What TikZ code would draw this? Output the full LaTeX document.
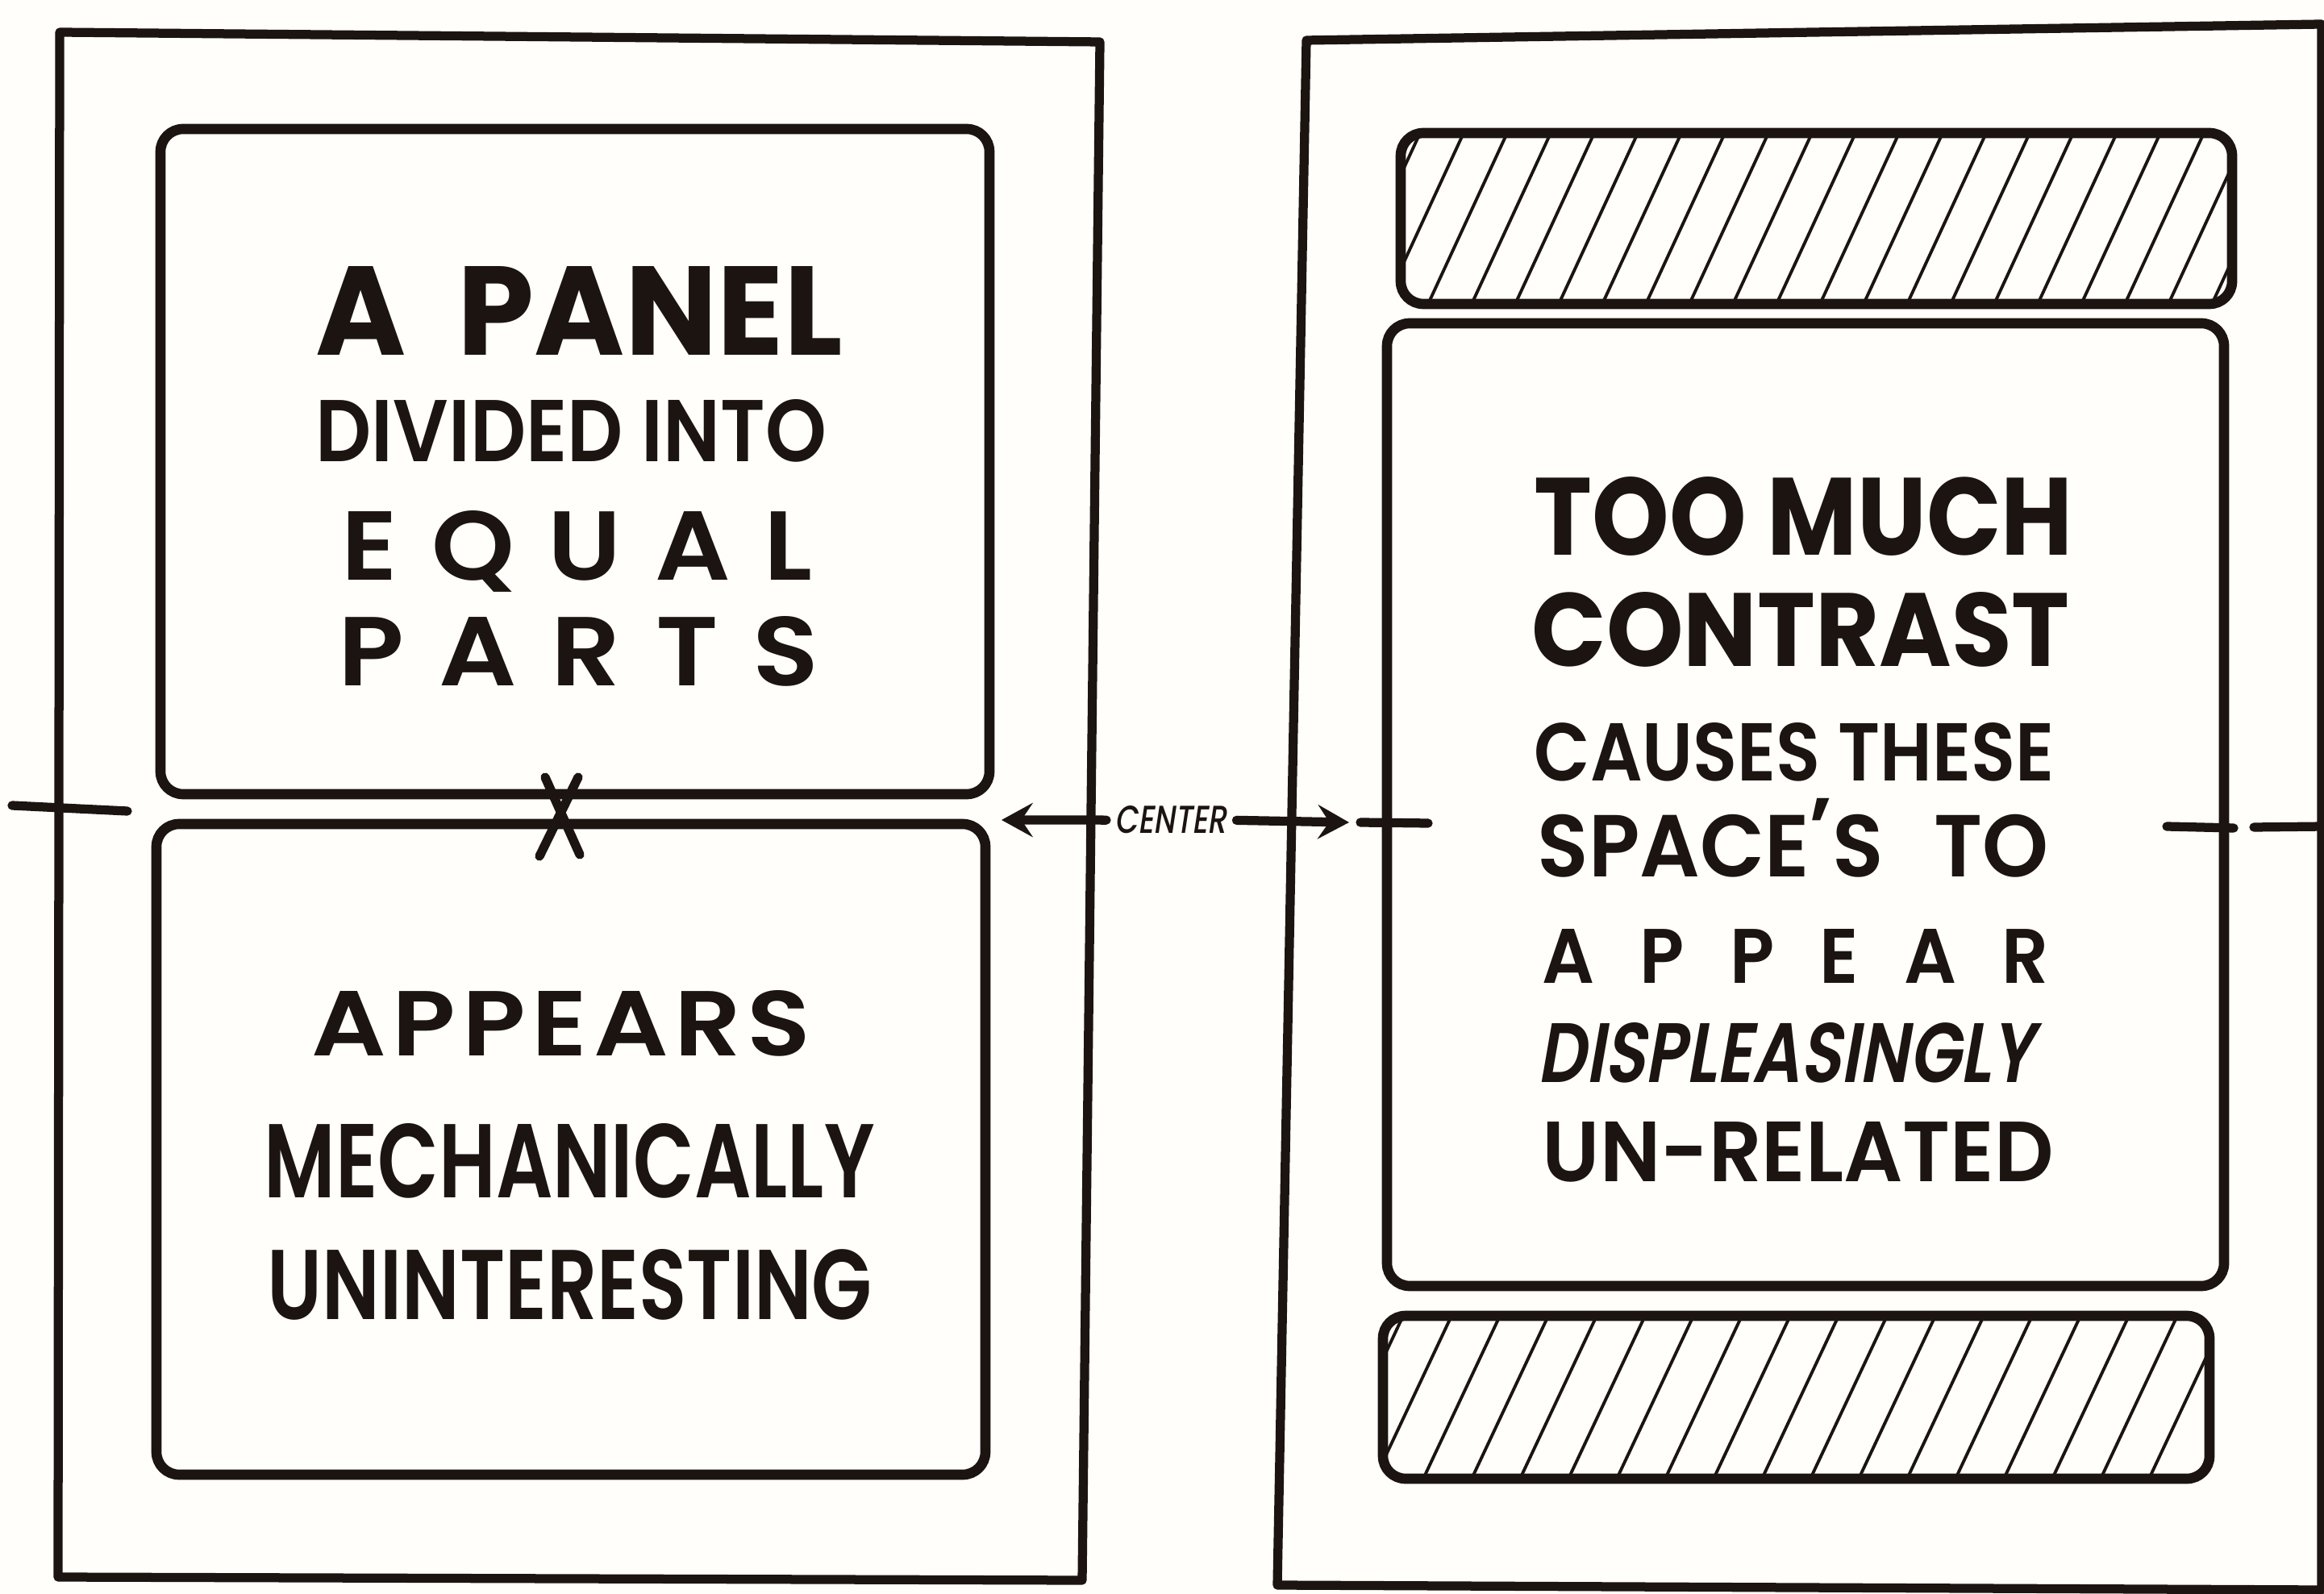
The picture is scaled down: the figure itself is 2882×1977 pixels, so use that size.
\documentclass[tikz,border=0pt]{standalone}
\usepackage{fontspec}
\usepackage{graphicx}
\usetikzlibrary{arrows.meta}
\newfontfamily\lettB{Poppins Bold}
\newfontfamily\lettS{Poppins SemiBold}
\newfontfamily\lettI{Poppins SemiBold}[FakeSlant=0.22]
\newfontfamily\lettC{Poppins Medium}[FakeSlant=0.2]
\newdimen\pxu \pxu=0.01cm
\newcommand\fitbox[3]{\resizebox{#1\pxu}{#2\pxu}{#3}}
\definecolor{inkc}{RGB}{28,20,16}
\definecolor{paper}{RGB}{255,254,250}
\tikzset{
  frame/.style={draw=inkc, line width=3.2pt, line join=round},
  panel/.style={draw=inkc, line width=3.6pt, rounded corners=8pt},
  hatchline/.style={draw=inkc, line width=1.1pt},
  cline/.style={draw=inkc, line width=3.2pt, line cap=round},
  txt/.style={inner sep=0pt, anchor=base west, text=inkc},
  arr/.style={cline, -{Stealth[length=11pt, width=12pt, inset=4pt]}}
}
\begin{document}
\begin{tikzpicture}[x=0.01cm, y=-0.01cm]
\fill[paper] (0,0) rectangle (2882,1977);
\useasboundingbox (0,0) rectangle (2882,1977);

% outer frames
\draw[frame] (74,40) -- (1364,52) -- (1342,1960) -- (72,1956) -- cycle;
\draw[frame] (1620,50) -- (2879,30) -- (2879,1972) -- (1584,1966) -- cycle;

% left panel boxes
\draw[panel] (199,160) rectangle (1227,985);
\draw[panel] (194,1022) rectangle (1222,1829);

% right panel boxes
\begin{scope}
  \clip[rounded corners=8pt] (1737,165) rectangle (2768,377);
  \foreach \i in {-2,...,21} \draw[hatchline] ({1737+\i*54-20},377) -- ++(98,-212);
\end{scope}
\draw[panel] (1737,165) rectangle (2768,377);
\draw[panel] (1720,401) rectangle (2758,1595);
\begin{scope}
  \clip[rounded corners=8pt] (1715,1632) rectangle (2740,1834);
  \foreach \i in {-2,...,19} \draw[hatchline] ({1715+\i*60-10},1834) -- ++(95,-202);
\end{scope}
\draw[panel] (1715,1632) rectangle (2740,1834);

% left texts
\node[txt] (t1) at (391,441) {\fitbox{653}{110}{\lettB A\hskip0.42em PANEL}};
\node[txt] (t2) at (391,573) {\fitbox{633}{77}{\lettS DIVIDED INTO}};
\node[txt] (t3) at (423,720) {\fitbox{584}{86}{\lettS E\hskip.32em Q\hskip.32em U\hskip.32em A\hskip.32em L}};
\node[txt] (t4) at (419,851) {\fitbox{596}{86}{\lettS P\hskip.32em A\hskip.32em R\hskip.32em T\hskip.32em S}};
\node[txt] (t5) at (386,1309) {\fitbox{619}{81}{\lettS A\kern.06em P\kern.06em P\kern.06em E\kern.06em A\kern.06em R\kern.06em S}};
\node[txt] (t6) at (327,1485) {\fitbox{757}{92}{\lettS MECHANICALLY}};
\node[txt] (t7) at (331,1636) {\fitbox{750}{87}{\lettS UNINTERESTING}};

% right texts
\node[txt] (r1) at (1902,689) {\fitbox{668}{97}{\lettB TOO MUCH}};
\node[txt] (r2) at (1899,827) {\fitbox{667}{92}{\lettB CONTRAST}};
\node[txt] (r3) at (1902,969) {\fitbox{645}{72}{\lettS CAUSES THESE}};
\node[txt] (r4) at (1906,1088) {\fitbox{634}{98}{\lettS SPACE\raisebox{0.2em}{’}S\hskip0.6em TO}};
\node[txt] (r5) at (1912,1219) {\fitbox{628}{67}{\lettS A\hskip.62em P\hskip.62em P\hskip.62em E\hskip.62em A\hskip.62em R}};
\node[txt] (r6) at (1906,1342) {\fitbox{615}{74}{\lettI DISPLEASINGLY}};
\node[txt] (r7) at (1912,1465) {\fitbox{634}{74}{\lettS UN-RELATED}};

% center marks
\draw[cline] (15,999) -- (158,1006);
\draw[cline] (676,964) -- (719,1060);
\draw[cline] (717,964) -- (669,1062);
\draw[cline] (1687,1020) -- (1771,1021);
\draw[cline] (2687,1025) -- (2770,1027);
\draw[cline] (2795,1026) -- (2882,1025);

% CENTER label and arrows
\node[txt] (ctr) at (1382,1034) {\fitbox{138}{34}{\lettC CENTER}};
\coordinate (ltip) at (1242,1017);
\coordinate (rtip) at (1673,1020);
\draw[arr, shorten <=0.1cm] (ctr.west) -- (ltip);
\draw[arr, shorten <=0.12cm] (ctr.east) -- (rtip);
\end{tikzpicture}
\end{document}
